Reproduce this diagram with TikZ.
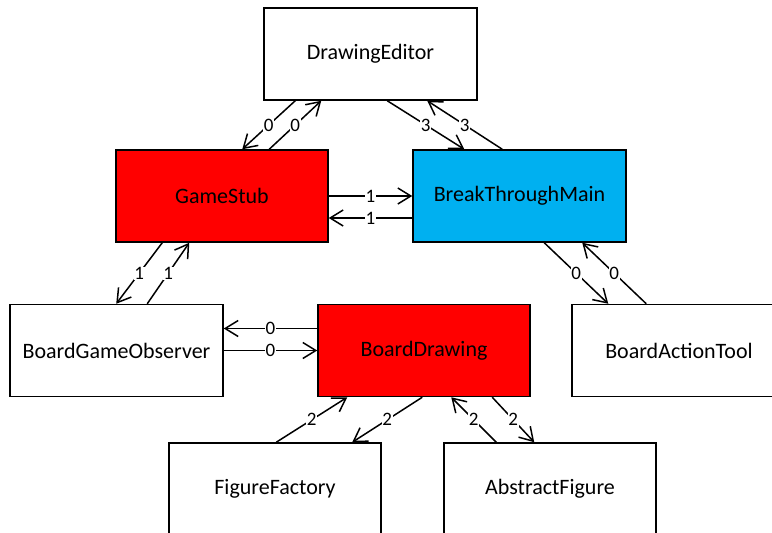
\documentclass[tikz,border=0pt]{standalone}
\usepackage{fontspec}
\setmainfont{Carlito}
\usetikzlibrary{arrows.meta}
\definecolor{boxred}{HTML}{FF0000}
\definecolor{boxblue}{HTML}{00B0F0}
\tikzset{
  cls/.style={draw=black, line width=1.5pt, minimum width=212pt, minimum height=92pt,
    inner sep=0pt, font=\fontsize{22}{26}\selectfont},
  link/.style={line width=1.5pt, -{Straight Barb[length=13pt,width=16pt,line width=1.5pt]}},
  mult/.style={fill=white, inner sep=0.6pt, font=\fontsize{19}{22}\selectfont}
}
\begin{document}
\begin{tikzpicture}[x=1pt, y=-1pt]
  \useasboundingbox (0,0) rectangle (772,533);
  \clip (0,0) rectangle (772,533);
  \fill[white] (0,0) rectangle (772,533);

  % classes
  \node[cls, minimum width=213pt] (DE)  at (370.5,54) {DrawingEditor};
  \node[cls, fill=boxred]         (GS)  at (222,196) {GameStub};
  \node[cls, fill=boxblue, minimum width=213pt] (BTM) at (519.5,196) {BreakThroughMain};
  \node[cls, minimum width=213pt] (BGO) at (116.5,350.5) {BoardGameObserver};
  \node[cls, fill=boxred]         (BD)  at (424,350.5) {BoardDrawing};
  \node[cls, minimum width=214pt] (BAT) at (679,350.5) {BoardActionTool};
  \node[cls]                      (FF)  at (275,489) {FigureFactory};
  \node[cls]                      (AF)  at (550,489) {AbstractFigure};

  % DrawingEditor <-> GameStub
  \draw[link] ([xshift=32pt]DE.south west) -- node[mult]{0} ([xshift=127pt]GS.north west);
  \draw[link] ([xshift=154pt]GS.north west) -- node[mult]{0} ([xshift=58pt]DE.south west);

  % DrawingEditor <-> BreakThroughMain
  \draw[link] ([xshift=124pt]DE.south west) -- node[mult]{3} ([xshift=52pt]BTM.north west);
  \draw[link] ([xshift=90pt]BTM.north west) -- node[mult]{3} ([xshift=164pt]DE.south west);

  % GameStub <-> BreakThroughMain
  \draw[link] (GS.east) -- node[mult]{1} (BTM.west);
  \draw[link] ([yshift=-22pt]BTM.west) -- node[mult]{1} ([yshift=-22pt]GS.east);

  % GameStub <-> BoardGameObserver
  \draw[link] ([xshift=47pt]GS.south west) -- node[mult]{1} ([xshift=107pt]BGO.north west);
  \draw[link] ([xshift=138pt]BGO.north west) -- node[mult]{1} ([xshift=74pt]GS.south west);

  % BreakThroughMain <-> BoardActionTool
  \draw[link] ([xshift=132pt]BTM.south west) -- node[mult]{0} ([xshift=37pt]BAT.north west);
  \draw[link] ([xshift=75pt]BAT.north west) -- node[mult]{0} ([xshift=170pt]BTM.south west);

  % BoardDrawing <-> BoardGameObserver
  \draw[link] ([yshift=22pt]BD.west) -- node[mult]{0} ([yshift=22pt]BGO.east);
  \draw[link] (BGO.east) -- node[mult]{0} (BD.west);

  % BoardDrawing <-> FigureFactory
  \draw[link] ([xshift=108pt]FF.north west) -- node[mult]{2} ([xshift=30pt]BD.south west);
  \draw[link] ([xshift=105pt]BD.south west) -- node[mult]{2} ([xshift=184pt]FF.north west);

  % BoardDrawing <-> AbstractFigure
  \draw[link] ([xshift=53pt]AF.north west) -- node[mult]{2} ([xshift=134pt]BD.south west);
  \draw[link] ([xshift=175pt]BD.south west) -- node[mult]{2} ([xshift=91pt]AF.north west);
\end{tikzpicture}
\end{document}
